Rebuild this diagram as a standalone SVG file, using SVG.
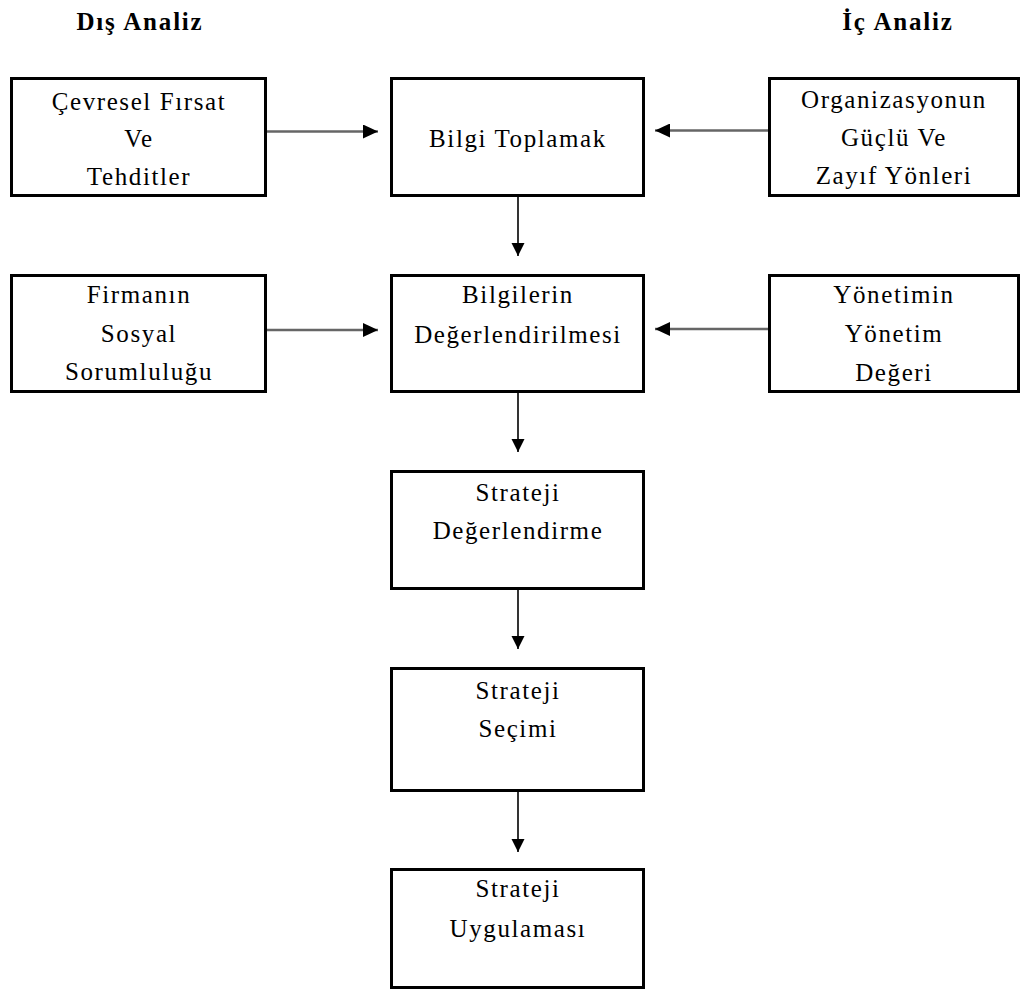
<svg xmlns="http://www.w3.org/2000/svg" width="1022" height="992" viewBox="0 0 1022 992">
<style>
.box{fill:#fff;stroke:#000;stroke-width:3}
.t{font-family:"Liberation Serif","Times New Roman",serif;font-size:25px;letter-spacing:1.6px;fill:#000;text-anchor:middle}
.h{font-family:"Liberation Serif","Times New Roman",serif;font-size:25px;font-weight:bold;letter-spacing:1.8px;fill:#000;text-anchor:middle}
.hl{stroke:#666;stroke-width:2.6;fill:none}
.vl{stroke:#000;stroke-width:1.6;fill:none}
</style>
<defs>
<marker id="ah" markerUnits="userSpaceOnUse" markerWidth="16" markerHeight="14" refX="15" refY="7" orient="auto">
<path d="M0,0 L15,7 L0,14 Z" fill="#000"/>
</marker>
<marker id="av" markerUnits="userSpaceOnUse" markerWidth="13" markerHeight="14" refX="13" refY="6.5" orient="auto">
<path d="M0,0 L13,6.5 L0,13 Z" fill="#000"/>
</marker>
</defs>
<rect width="1022" height="992" fill="#fff"/>
<g id="title-dis"><text class="h" x="140" y="30">Dış Analiz</text></g>
<g id="title-ic"><text class="h" x="898" y="30">İç Analiz</text></g>
<g id="connectors">
<line class="hl" x1="267" y1="131.5" x2="378" y2="131.5" marker-end="url(#ah)"/>
<line class="hl" x1="768" y1="130.5" x2="655" y2="130.5" marker-end="url(#ah)"/>
<line class="hl" x1="267" y1="330" x2="378" y2="330" marker-end="url(#ah)"/>
<line class="hl" x1="768" y1="329" x2="655" y2="329" marker-end="url(#ah)"/>
<line class="vl" x1="518" y1="197" x2="518" y2="256" marker-end="url(#av)"/>
<line class="vl" x1="518" y1="393" x2="518" y2="452" marker-end="url(#av)"/>
<line class="vl" x1="518" y1="590" x2="518" y2="649" marker-end="url(#av)"/>
<line class="vl" x1="518" y1="792" x2="518" y2="852" marker-end="url(#av)"/>
</g>
<g id="cevresel">
<rect class="box" x="11.5" y="78.5" width="254" height="117"/>
<text class="t" x="139" y="110">Çevresel Fırsat</text>
<text class="t" x="139" y="147">Ve</text>
<text class="t" x="139" y="185">Tehditler</text>
</g>
<g id="bilgi-toplamak">
<rect class="box" x="391.5" y="78.5" width="252" height="117"/>
<text class="t" x="518" y="147">Bilgi Toplamak</text>
</g>
<g id="organizasyon">
<rect class="box" x="769.5" y="78.5" width="249" height="117"/>
<text class="t" x="894" y="108">Organizasyonun</text>
<text class="t" x="894" y="146">Güçlü Ve</text>
<text class="t" x="894" y="184">Zayıf Yönleri</text>
</g>
<g id="firmanin">
<rect class="box" x="11.5" y="275.5" width="254" height="116"/>
<text class="t" x="139" y="303">Firmanın</text>
<text class="t" x="139" y="342">Sosyal</text>
<text class="t" x="139" y="380">Sorumluluğu</text>
</g>
<g id="bilgilerin">
<rect class="box" x="391.5" y="275.5" width="252" height="116"/>
<text class="t" x="518" y="303">Bilgilerin</text>
<text class="t" x="518" y="343">Değerlendirilmesi</text>
</g>
<g id="yonetimin">
<rect class="box" x="769.5" y="275.5" width="249" height="116"/>
<text class="t" x="894" y="303">Yönetimin</text>
<text class="t" x="894" y="342">Yönetim</text>
<text class="t" x="894" y="381">Değeri</text>
</g>
<g id="strateji-degerlendirme">
<rect class="box" x="391.5" y="471.5" width="252" height="117"/>
<text class="t" x="518" y="501">Strateji</text>
<text class="t" x="518" y="539">Değerlendirme</text>
</g>
<g id="strateji-secimi">
<rect class="box" x="391.5" y="668.5" width="252" height="122"/>
<text class="t" x="518" y="699">Strateji</text>
<text class="t" x="518" y="737">Seçimi</text>
</g>
<g id="strateji-uygulamasi">
<rect class="box" x="391.5" y="869.5" width="252" height="118"/>
<text class="t" x="518" y="897">Strateji</text>
<text class="t" x="518" y="937">Uygulaması</text>
</g>
</svg>
